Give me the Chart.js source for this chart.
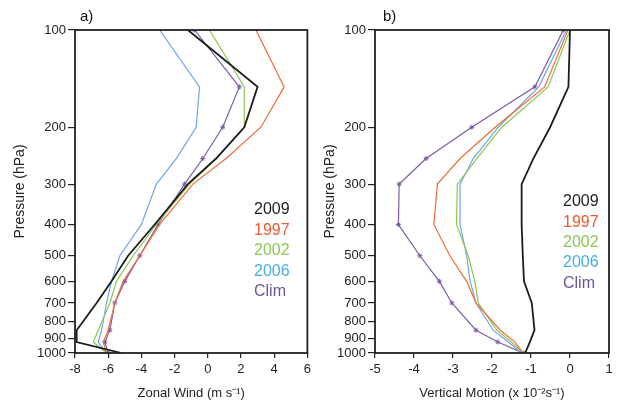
<!DOCTYPE html>
<html>
<head>
<meta charset="utf-8">
<script src="https://cdn.jsdelivr.net/npm/chart.js@4.4.0/dist/chart.umd.min.js"></script>
<style>
  body { margin: 0; background: #fff; }
  .wrap { position: absolute; top: 0; height: 411px; }
  #wa { left: 0; width: 315px; }
  #wb { left: 310px; width: 307px; }
</style>
</head>
<body>
<div class="wrap" id="wa"><canvas id="chartA"></canvas></div>
<div class="wrap" id="wb"><canvas id="chartB"></canvas></div>
<script>
// pressure levels (hPa) shared by both panels
const levels = [100, 150, 200, 250, 300, 400, 500, 600, 700, 850, 925, 1000];
const pressureTicks = [100, 200, 300, 400, 500, 600, 700, 800, 900, 1000];
const seriesNames = ['2009', '1997', '2002', '2006', 'Clim'];

// a) zonal wind (m/s)
const wind2009 = [-1.2, 3.0, 2.2, 0.5, -1.2, -3.2, -4.8, -5.8, -6.7, -7.9, -7.9, -5.2];
const wind1997 = [2.9, 4.6, 3.2, 1.1, -0.9, -2.9, -4.1, -5.1, -5.6, -6.0, -6.3, -6.1];
const wind2002 = [0.1, 2.2, 2.2, 0.5, -1.1, -3.1, -4.5, -5.5, -5.9, -6.6, -6.9, -6.1];
const wind2006 = [-2.9, -0.5, -0.7, -1.9, -3.1, -4.0, -5.3, -5.8, -6.1, -6.4, -6.6, -6.1];
const windClim = [-0.8, 1.9, 0.9, -0.3, -1.4, -3.0, -4.1, -5.0, -5.6, -5.9, -6.2, -6.0];

// b) vertical motion (x 10^-2 s^-1)
const omega2009 = [0.0, -0.04, -0.51, -0.94, -1.24, -1.24, -1.21, -1.18, -0.98, -0.91, -1.03, -1.15];
const omega1997 = [-0.05, -0.65, -1.92, -2.82, -3.4, -3.49, -3.08, -2.65, -2.41, -1.79, -1.41, -1.2];
const omega2002 = [0.0, -0.56, -1.75, -2.39, -2.89, -2.91, -2.61, -2.44, -2.35, -1.88, -1.5, -1.2];
const omega2006 = [-0.09, -0.8, -1.84, -2.48, -2.82, -2.82, -2.65, -2.56, -2.41, -1.97, -1.58, -1.24];
const omegaClim = [-0.17, -0.9, -2.52, -3.69, -4.38, -4.4, -3.85, -3.35, -3.03, -2.41, -1.85, -1.2];

const lineColors = ['#1c1c1c', '#f26a36', '#8cc653', '#6fa6e8', '#7d5aa8'];
const textColors = ['#1c1c1c', '#f05a30', '#8cc653', '#45b0e0', '#6f5596'];

const FONT = "'Liberation Sans', Arial, sans-serif";

function makeDatasets(list) {
  return list.map((vals, i) => ({
    label: seriesNames[i],
    data: levels.map((p, k) => ({ x: vals[k], y: p })),
    borderColor: lineColors[i],
    backgroundColor: lineColors[i],
    borderWidth: i === 0 ? 1.8 : 1.2,
    pointRadius: seriesNames[i] === 'Clim' ? 2.5 : 0,
    pointStyle: 'star',
    pointBorderWidth: 1,
    tension: 0,
    fill: false
  }));
}

// box around plot, panel tag and coloured legend text
const decor = {
  id: 'decor',
  afterDraw(chart, args, opts) {
    const { ctx, chartArea: a } = chart;
    ctx.save();
    ctx.strokeStyle = '#222';
    ctx.lineWidth = 1.8;
    ctx.strokeRect(a.left, a.top, a.right - a.left, a.bottom - a.top);
    ctx.fillStyle = '#111';
    ctx.font = '15px ' + FONT;
    ctx.textBaseline = 'middle';
    ctx.fillText(opts.tag, opts.tagX, 17);
    ctx.font = '16px ' + FONT;
    seriesNames.forEach((n, i) => {
      ctx.fillStyle = textColors[i];
      ctx.fillText(n, a.left + opts.legX, a.top + opts.legY + i * opts.gap);
    });
    ctx.restore();
  }
};

function makeChart(id, datasets, xmin, xmax, step, xTitle, yWidth, padRight, deco) {
  return new Chart(document.getElementById(id), {
    type: 'line',
    data: { datasets },
    plugins: [decor],
    options: {
      responsive: true,
      maintainAspectRatio: false,
      animation: false,
      layout: { padding: { top: 30, right: padRight, bottom: 0, left: 0 } },
      plugins: { legend: { display: false }, tooltip: { enabled: false }, decor: deco },
      scales: {
        x: {
          type: 'linear',
          min: xmin, max: xmax,
          border: { display: false },
          grid: { drawOnChartArea: false, tickLength: 5, color: '#222', lineWidth: 1.2 },
          ticks: { stepSize: step, color: '#222', font: { family: FONT, size: 13 }, padding: 4 },
          title: { display: true, text: xTitle, color: '#222', font: { family: FONT, size: 13 }, padding: { top: 2, bottom: 10 } },
          afterFit: (s) => { s.height = 58; }
        },
        y: {
          type: 'logarithmic',
          reverse: true,
          min: 100, max: 1000,
          border: { display: false },
          grid: { drawOnChartArea: false, tickLength: 7, color: '#222', lineWidth: 1.2 },
          afterBuildTicks: (s) => { s.ticks = pressureTicks.map(v => ({ value: v })); },
          ticks: { color: '#222', font: { family: FONT, size: 13 }, padding: 2, callback: (v) => String(v) },
          title: { display: true, text: 'Pressure (hPa)', color: '#222', font: { family: FONT, size: 14 }, padding: { top: 12, bottom: 4 } },
          afterFit: (s) => { s.width = yWidth; }
        }
      }
    }
  });
}

makeChart('chartA',
  makeDatasets([wind2009, wind1997, wind2002, wind2006, windClim]),
  -8, 6, 2, 'Zonal Wind (m s\u207B\u00B9)', 75, 6,
  { tag: 'a)', tagX: 80, legX: 179, legY: 180, gap: 20.5 });

makeChart('chartB',
  makeDatasets([omega2009, omega1997, omega2002, omega2006, omegaClim]),
  -5, 1, 1, 'Vertical Motion (x 10\u207B\u00B2s\u207B\u00B9)', 65, 8,
  { tag: 'b)', tagX: 73, legX: 188, legY: 172, gap: 20.3 });
</script>
</body>
</html>
